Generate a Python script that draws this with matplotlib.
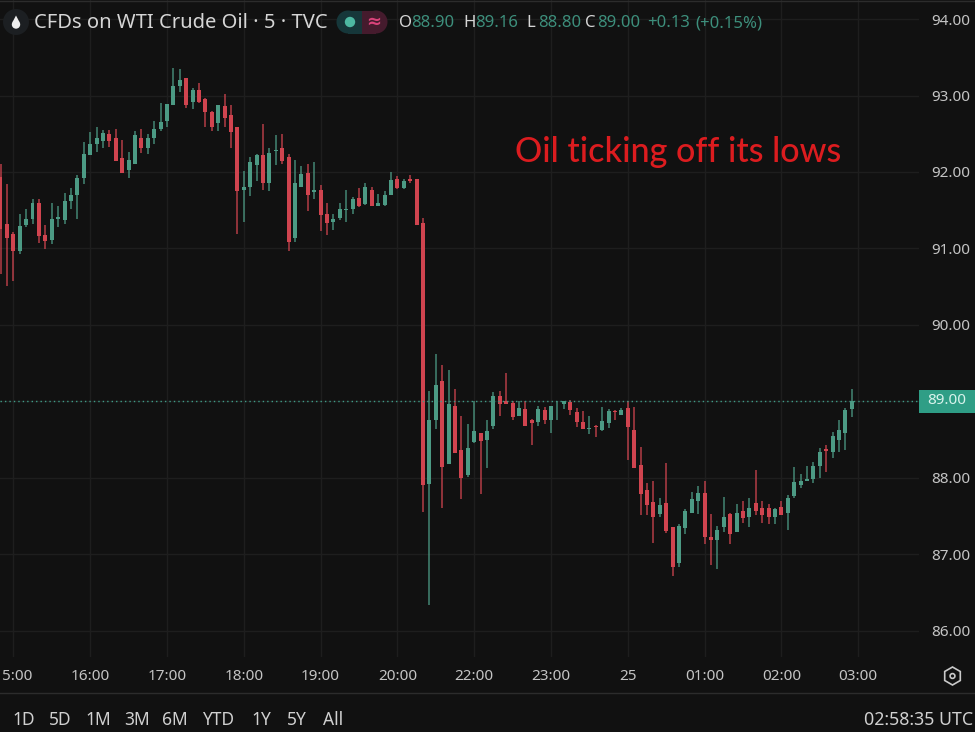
import matplotlib.pyplot as plt
from matplotlib.patches import Rectangle, RegularPolygon, Circle, Polygon

# BAR 0 IS 16:00, EACH BAR IS 5 MINUTES
first_bar = -14

opens = [91.93, 91.32, 91.19, 90.96, 91.30, 91.38, 91.59, 91.18, 91.11, 91.38, 91.37, 91.62, 91.70, 91.92,
         92.22, 92.36, 92.41, 92.50, 92.44, 92.18, 92.03, 92.11, 92.45, 92.31, 92.45, 92.56,
         92.67, 92.87, 93.12, 93.23, 92.91, 93.07, 92.96, 92.79, 92.64, 92.86, 92.74, 92.59,
         91.77, 91.81, 92.09, 92.22, 91.86, 92.27, 92.32, 92.20, 91.14, 91.81, 91.99, 91.74,
         91.77, 91.45, 91.34, 91.40, 91.50, 91.51, 91.66, 91.58, 91.76, 91.55, 91.57, 91.70,
         91.91, 91.79, 91.91, 91.91, 91.33, 87.92, 88.76, 89.27, 88.18, 88.94, 88.36, 88.04,
         88.47, 88.58, 88.50, 88.68, 89.07, 89.01, 88.98, 88.81, 88.90, 88.75, 88.73, 88.89,
         88.76, 88.92, 88.96, 88.99, 88.86, 88.73, 88.64, 88.68, 88.62, 88.71, 88.87, 88.82,
         88.91, 88.63, 88.17, 87.84, 87.68, 87.53, 87.67, 87.35, 86.89, 87.34, 87.54, 87.70,
         87.80, 87.23, 87.18, 87.35, 87.53, 87.29, 87.57, 87.48, 87.67, 87.60, 87.60, 87.48,
         87.62, 87.54, 87.76, 87.91, 87.96, 87.99, 88.16, 88.37, 88.34, 88.49, 88.58, 88.90]

highs = [92.10, 91.84, 91.21, 91.45, 91.52, 91.65, 91.65, 91.30, 91.59, 91.55, 91.72, 91.79, 91.96, 92.39,
         92.52, 92.59, 92.55, 92.55, 92.56, 92.42, 92.26, 92.54, 92.56, 92.50, 92.67, 92.90,
         92.89, 93.36, 93.35, 93.23, 93.10, 93.17, 92.97, 92.80, 92.87, 93.02, 92.88, 92.59,
         92.01, 92.19, 92.24, 92.63, 92.31, 92.48, 92.50, 92.24, 92.16, 92.08, 92.11, 92.13,
         91.83, 91.59, 91.45, 91.60, 91.77, 91.67, 91.79, 91.85, 91.80, 91.71, 91.75, 92.00,
         91.95, 91.91, 91.96, 91.91, 91.40, 89.13, 89.62, 89.48, 89.41, 89.16, 88.81, 88.70,
         89.01, 88.59, 88.75, 89.12, 89.14, 89.37, 89.00, 89.01, 89.00, 88.77, 88.94, 88.93,
         88.94, 89.00, 89.01, 89.02, 88.91, 88.87, 88.81, 88.69, 88.93, 88.90, 88.89, 88.91,
         89.00, 88.92, 88.40, 87.93, 87.96, 87.73, 88.19, 87.36, 87.40, 87.59, 87.81, 87.89,
         87.96, 87.52, 87.37, 87.75, 87.54, 87.66, 87.70, 87.73, 88.10, 87.70, 87.66, 87.61,
         87.70, 87.77, 88.14, 88.05, 88.16, 88.21, 88.39, 88.43, 88.60, 88.76, 88.91, 89.16]

lows = [90.66, 90.51, 90.58, 90.93, 91.28, 91.32, 91.07, 90.99, 91.06, 91.28, 91.32, 91.52, 91.38, 91.84,
        92.22, 92.26, 92.31, 92.33, 92.14, 91.99, 91.92, 92.11, 92.25, 92.23, 92.36, 92.53,
        92.59, 92.87, 93.05, 92.84, 92.83, 92.90, 92.59, 92.53, 92.53, 92.59, 92.32, 91.19,
        91.34, 91.68, 91.88, 91.76, 91.75, 92.09, 92.11, 90.96, 91.09, 91.81, 91.49, 91.65,
        91.23, 91.17, 91.24, 91.37, 91.34, 91.45, 91.54, 91.57, 91.55, 91.55, 91.56, 91.70,
        91.78, 91.78, 91.85, 91.30, 87.55, 86.34, 88.64, 87.60, 88.18, 88.33, 87.72, 88.01,
        88.46, 87.79, 88.13, 88.64, 88.81, 88.96, 88.75, 88.81, 88.68, 88.43, 88.68, 88.70,
        88.59, 88.75, 88.90, 88.82, 88.66, 88.64, 88.57, 88.53, 88.61, 88.65, 88.76, 88.82,
        88.23, 88.13, 87.51, 87.51, 87.15, 87.49, 87.28, 86.72, 86.83, 87.26, 87.54, 87.52,
        87.13, 86.86, 86.80, 87.29, 87.13, 87.29, 87.41, 87.36, 87.51, 87.41, 87.40, 87.40,
        87.51, 87.32, 87.73, 87.87, 87.96, 87.93, 88.00, 88.08, 88.26, 88.34, 88.36, 88.80]

closes = [91.25, 91.13, 90.96, 91.29, 91.39, 91.60, 91.16, 91.10, 91.38, 91.41, 91.62, 91.70, 91.92, 92.23,
          92.37, 92.44, 92.51, 92.40, 92.14, 91.99, 92.16, 92.48, 92.31, 92.44, 92.56, 92.65,
          92.89, 93.13, 93.20, 92.87, 93.07, 92.91, 92.78, 92.59, 92.87, 92.70, 92.52, 91.75,
          91.80, 92.13, 92.22, 91.86, 92.25, 92.29, 92.14, 91.08, 91.85, 91.97, 91.70, 91.76,
          91.44, 91.33, 91.39, 91.51, 91.51, 91.65, 91.55, 91.81, 91.55, 91.59, 91.70, 91.90,
          91.79, 91.88, 91.88, 91.31, 87.91, 88.75, 89.21, 88.14, 88.97, 88.33, 88.00, 88.39,
          88.61, 88.48, 88.61, 89.07, 88.96, 88.96, 88.79, 88.91, 88.68, 88.71, 88.90, 88.76,
          88.94, 88.93, 89.00, 88.89, 88.73, 88.64, 88.65, 88.66, 88.74, 88.87, 88.86, 88.89,
          88.66, 88.13, 87.79, 87.64, 87.48, 87.64, 87.30, 86.83, 87.37, 87.57, 87.72, 87.80,
          87.23, 87.18, 87.32, 87.49, 87.27, 87.54, 87.47, 87.60, 87.56, 87.51, 87.49, 87.59,
          87.51, 87.73, 87.94, 87.96, 87.99, 88.16, 88.34, 88.35, 88.55, 88.62, 88.89, 89.00]

time_ticks = [-12, 0, 12, 24, 36, 48, 60, 72, 84, 96, 108, 120]
time_labels = ["", "16:00", "17:00", "18:00", "19:00", "20:00",
               "22:00", "23:00", "25", "01:00", "02:00", "03:00"]
price_ticks = [86, 87, 88, 89, 90, 91, 92, 93, 94]
last_price = 89.00

range_buttons = ["1D", "5D", "1M", "3M", "6M", "YTD", "1Y", "5Y", "All"]
range_centers = [24, 60, 98, 137, 175, 218, 261, 297, 333]

# COLORS
BG = "#111111"
GRID = "#1e1e1e"
GREEN = "#4c9a84"
RED = "#d0444f"
TEXT = "#c4c4c4"
HEADER_GREEN = "#3d8f7c"

FONT = "Noto Sans"

fig = plt.figure(figsize=(9.75, 7.32), dpi=100, facecolor=BG)

# PRICE PANE, 0..919 PX ACROSS AND 0..657 PX DOWN
ax = fig.add_axes([0, 75 / 732, 919 / 975, 657 / 732], facecolor=BG)
ax.set_xlim(-14.08, 129.5)
ax.set_ylim(85.655, 94.25)

ax.set_xticks(time_ticks, time_labels, fontname=FONT, fontsize=11, color=TEXT)
ax.set_yticks(price_ticks)
ax.yaxis.tick_right()
# 89.00 IS SHOWN BY THE LAST PRICE TAG
ax.set_yticklabels(["" if p == last_price else "%.2f" % p for p in price_ticks],
                   fontname=FONT, fontsize=11, color=TEXT, va="center_baseline")
ax.tick_params(length=0, axis="x", pad=8.5)
ax.tick_params(length=0, axis="y", pad=9)
ax.get_xticklabels()[8].set_fontweight("bold")

ax.grid(True, color=GRID, linewidth=1)
ax.set_axisbelow(True)
for side in ax.spines:
    ax.spines[side].set_visible(False)

# CANDLES
for n in range(len(opens)):
    bar = first_bar + n
    color = GREEN if closes[n] >= opens[n] else RED
    ax.vlines(bar, lows[n], highs[n], color=color, linewidth=1.1, alpha=0.85, zorder=3)
    ax.bar(bar, abs(closes[n] - opens[n]), bottom=min(opens[n], closes[n]),
           width=0.62, color=color, linewidth=0, zorder=4)

# LAST PRICE LINE
ax.axhline(last_price, color="#3f9c87", linewidth=1, linestyle=(0, (1, 2.2)), zorder=5)

# OVERLAY IN PIXELS FOR THE TERMINAL CHROME
ui = fig.add_axes([0, 0, 1, 1])
ui.set_xlim(0, 975)
ui.set_ylim(732, 0)
ui.axis("off")
ui.patch.set_alpha(0)

ui.plot([0, 975], [693, 693], color="#2c2c2c", linewidth=1)
ui.plot([0, 975], [0.8, 0.8], color="#2c2c2c", linewidth=1)

# FIRST TIME LABEL, ONLY ITS VISIBLE PART
ui.text(17, 676, "5:00", color=TEXT, fontsize=11, fontname=FONT, ha="center", va="center")

ui.text(678, 152, "Oil ticking off its lows", color="#dc1c1f", fontsize=24.5,
        fontname="Lato", fontweight="medium", ha="center", va="center")

# HEADER
ui.add_patch(Circle((16, 22), 13, color="#1c1f22", linewidth=0))
ui.add_patch(Circle((16, 24.5), 4.2, color="#eeeeee", linewidth=0))
ui.add_patch(Polygon([(12.3, 22.5), (16, 15.5), (19.7, 22.5)], color="#eeeeee", linewidth=0))
ui.text(34, 23, "CFDs on WTI Crude Oil · 5 · TVC", color="#d6d6d6", fontsize=14.5,
        fontname=FONT, ha="left", va="center")

ui.add_patch(Rectangle((348, 10.5), 14, 23, color="#16373a", linewidth=0))
ui.add_patch(Circle((348, 22), 11.5, color="#16373a", linewidth=0))
ui.add_patch(Rectangle((362, 10.5), 14, 23, color="#451b2d", linewidth=0))
ui.add_patch(Circle((376, 22), 11.5, color="#451b2d", linewidth=0))
ui.add_patch(Circle((350, 22), 5.2, color="#4db8a2", linewidth=0))
ui.text(374, 22, "≈", color="#d9437a", fontsize=13, family="DejaVu Sans",
        fontweight="bold", ha="center", va="center")

header_labels = ["O", "H", "L", "C"]
header_values = ["88.90", "89.16", "88.80", "89.00"]
header_x = [399, 463, 526, 585]
for n in range(4):
    ui.text(header_x[n], 23, header_labels[n], color="#d6d6d6", fontsize=12,
            fontname=FONT, ha="left", va="center")
    ui.text(header_x[n] + 12, 23, header_values[n], color=HEADER_GREEN, fontsize=12,
            fontname=FONT, ha="left", va="center")
ui.text(647, 23, "+0.13", color=HEADER_GREEN, fontsize=12, fontname=FONT, ha="left", va="center")
ui.text(695, 23, "(+0.15%)", color=HEADER_GREEN, fontsize=12, fontname=FONT, ha="left", va="center")

# LAST PRICE TAG
ui.add_patch(Rectangle((919, 389.5), 56, 23, color="#2f9e86", linewidth=0))
ui.text(947, 401, "%.2f" % last_price, color="#d8f3ec", fontsize=11, fontweight="bold",
        fontname=FONT, ha="center", va="center")

# SETTINGS ICON
ui.add_patch(RegularPolygon((952.5, 676), 6, radius=9, fill=False, edgecolor="#c9c9c9", linewidth=1.2))
ui.add_patch(Circle((952.5, 676), 2.4, fill=False, edgecolor="#c9c9c9", linewidth=1.2))

# BOTTOM BAR
for n in range(len(range_buttons)):
    ui.text(range_centers[n], 720, range_buttons[n], color="#d0d0d0", fontsize=12.5,
            fontname=FONT, ha="center", va="center")
ui.text(973, 720, "02:58:35 UTC", color="#d0d0d0", fontsize=12.8,
        fontname=FONT, ha="right", va="center")

fig.savefig("out.png", dpi=100, facecolor=BG)
